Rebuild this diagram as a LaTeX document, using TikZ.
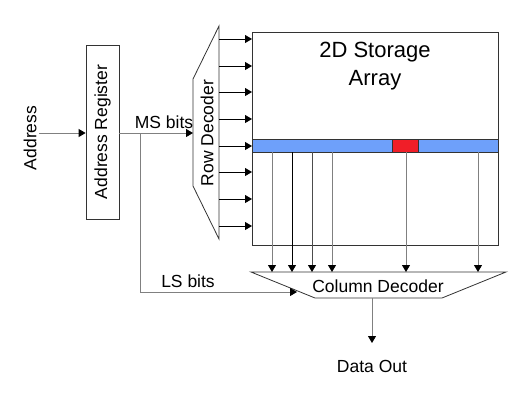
\documentclass[tikz,border=0pt]{standalone}
\usepackage{fontspec}
\setmainfont{Liberation Sans}
\usetikzlibrary{arrows.meta}
\definecolor{rowblue}{RGB}{110,160,250}
\definecolor{cellred}{RGB}{240,30,40}
\definecolor{wire}{RGB}{128,128,128}
\tikzset{
  arr/.style={draw=wire, line width=0.9pt, -{Triangle[length=7pt,width=8pt,color=black]}},
  lbl/.style={font=\fontsize{17.5}{20}\selectfont},
  box/.style={draw=black!80, line width=0.8pt}
}
\begin{document}
\begin{tikzpicture}[x=1pt,y=-1pt]
  \useasboundingbox (0,0) rectangle (519,402);
  % address register
  \node [lbl, rotate=90] (addr) at (30,138) {Address};
  \node [box, minimum width=33pt, minimum height=174pt] (reg) at (102.5,132) {};
  \node [lbl, rotate=90] at (reg.center) {Address Register};
  \draw [arr] (39,133) -- (reg.west |- 0,133);
  % row decoder
  \coordinate (rd1) at (193,79);
  \coordinate (rd2) at (219,26);
  \coordinate (rd3) at (219,239);
  \coordinate (rd4) at (193,186);
  \draw [box] (rd1) -- (rd2) -- (rd3) -- (rd4) -- cycle;
  \node [lbl, rotate=90] (rowdec) at (207,133) {Row Decoder};
  \draw [arr] (reg.east |- 0,133) -- (rd1 |- 0,133);
  \node [lbl, anchor=base] (ms) at (164,128) {MS bits};
  % storage array
  \node [box, anchor=north west, minimum width=246pt, minimum height=213pt,
    inner sep=0pt] (array) at (252,32) {};
  \node [font=\fontsize{22}{28}\selectfont, align=center] (title) at (375,66)
    {2D Storage\\Array};
  \draw [box, fill=rowblue] (252,139) rectangle (498,152);
  \draw [box, fill=cellred] (392,139) rectangle (418,152);
  \foreach \y in {39,66,92,119,146,172,199,226}{
    \draw [arr, draw=black] (rd2 |- 0,\y) -- (array.west |- 0,\y);
  }
  % column decoder
  \coordinate (cd1) at (251,272);
  \coordinate (cd2) at (506,272);
  \coordinate (cd3) at (442,298);
  \coordinate (cd4) at (315,298);
  \draw [box] (cd1) -- (cd2) -- (cd3) -- (cd4) -- cycle;
  \node [lbl] (coldec) at (378,286) {Column Decoder};
  \foreach \x/\c in {272/wire,292/black,312/black!70,332/wire,406/wire,478/wire}{
    \draw [arr, draw=\c] (\x,152) -- (\x,272);
  }
  % LS bits
  \draw [arr] (140,133) -- (140,292) -- (297,292);
  \node [lbl, anchor=base] (ls) at (188,287) {LS bits};
  % data out
  \draw [arr] (372,298) -- (372,343);
  \node [lbl] (out) at (372,366) {Data Out};
\end{tikzpicture}
\end{document}
